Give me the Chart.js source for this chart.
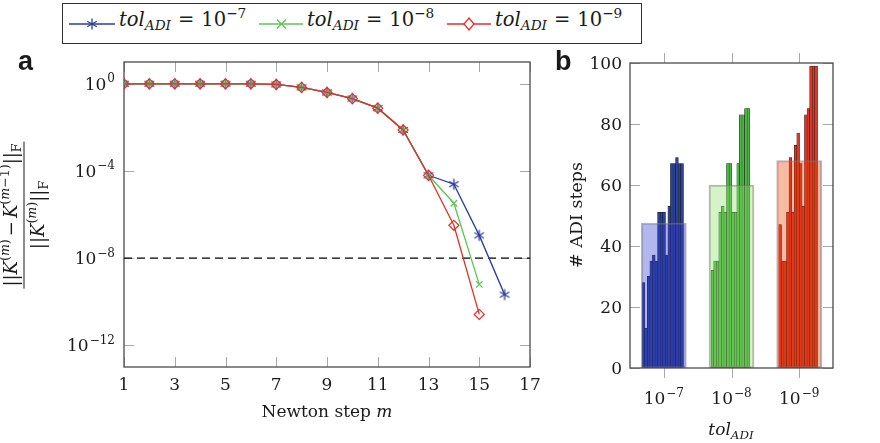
<!DOCTYPE html>
<html><head><meta charset="utf-8">
<script src="https://cdn.jsdelivr.net/npm/chart.js@4.4.1/dist/chart.umd.min.js"></script>
<style>
html,body{margin:0;padding:0;background:#fff;}
#wrap{position:relative;width:880px;height:443px;overflow:hidden;font-family:"DejaVu Serif",serif;color:#1a1a1a;}
canvas{position:absolute;top:0;}
#c1{left:0;}
#c2{left:550px;}
.abs{position:absolute;white-space:nowrap;line-height:1;}
.panel{font-family:"Liberation Sans",Arial,sans-serif;font-weight:bold;font-size:27px;}
#legend{position:absolute;left:62px;top:3px;width:580px;height:41px;box-sizing:border-box;border:1.2px solid #333;background:#fff;}
.li{position:absolute;top:0;height:38px;}
.li svg{position:absolute;top:10px;left:0;}
.lt{position:absolute;top:6px;font-size:19.5px;white-space:nowrap;line-height:1;}
.sb,.sp{font-size:70%;position:relative;line-height:0;vertical-align:baseline;}
.sp{top:-0.6em;}
.sb{top:0.32em;}
.eq{margin:0 7px;}
.frac{display:inline-block;text-align:center;vertical-align:middle;font-size:18px;}
.frac .num{display:block;border-bottom:1.2px solid #1a1a1a;padding:0 2px 4px 2px;}
.frac .den{display:block;padding-top:4px;}
.mm{margin:0 3px;}
</style>
</head>
<body>
<div id="wrap">
  <canvas id="c1" width="550" height="443"></canvas>
  <canvas id="c2" width="330" height="443"></canvas>

  <div id="legend">
    <div class="li" style="left:6px;">
      <svg width="48" height="20"><line x1="0" y1="10" x2="46" y2="10" stroke="#2b3d9c" stroke-width="1.3"/>
        <g stroke="#2b3d9c" stroke-width="1.3"><line x1="23" y1="4.5" x2="23" y2="15.5"/><line x1="18.2" y1="7.2" x2="27.8" y2="12.8"/><line x1="18.2" y1="12.8" x2="27.8" y2="7.2"/></g></svg>
    </div>
    <div class="lt" style="left:56px;"><i>tol</i><span class="sb"><i>ADI</i></span><span class="eq">=</span>10<span class="sp">−7</span></div>
    <div class="li" style="left:196px;">
      <svg width="48" height="20"><line x1="0" y1="10" x2="44" y2="10" stroke="#5cc655" stroke-width="1.3"/>
        <g stroke="#5cc655" stroke-width="1.3"><line x1="18" y1="5.5" x2="27" y2="14.5"/><line x1="18" y1="14.5" x2="27" y2="5.5"/></g></svg>
    </div>
    <div class="lt" style="left:244px;"><i>tol</i><span class="sb"><i>ADI</i></span><span class="eq">=</span>10<span class="sp">−8</span></div>
    <div class="li" style="left:384px;">
      <svg width="48" height="20"><line x1="0" y1="10" x2="44" y2="10" stroke="#e3302a" stroke-width="1.3"/>
        <polygon points="22,4 27,10 22,16 17,10" fill="#fff" stroke="#e3302a" stroke-width="1.3"/></svg>
    </div>
    <div class="lt" style="left:432px;"><i>tol</i><span class="sb"><i>ADI</i></span><span class="eq">=</span>10<span class="sp">−9</span></div>
  </div>

  <div class="abs panel" style="left:18px;top:48px;">a</div>
  <div class="abs panel" style="left:555px;top:48px;">b</div>

  <div class="abs" style="left:24px;top:215px;transform:translate(-50%,-50%) rotate(-90deg);">
    <div class="frac"><span class="num">||<i>K</i><span class="sp">(<i>m</i>)</span><span class="mm">−</span><i>K</i><span class="sp">(<i>m</i>−1)</span>||<span class="sb">F</span></span><span class="den">||<i>K</i><span class="sp">(<i>m</i>)</span>||<span class="sb">F</span></span></div>
  </div>
  <div class="abs" style="left:327px;top:403px;transform:translateX(-50%);font-size:17px;">Newton step <i>m</i></div>
  <div class="abs" style="left:577px;top:215px;transform:translate(-50%,-50%) rotate(-90deg);font-size:17.5px;"># ADI steps</div>
  <div class="abs" style="left:731px;top:421px;transform:translateX(-50%);font-size:17px;"><i>tol</i><span class="sb"><i>ADI</i></span></div>
</div>

<script>
// ---------------- data ----------------
const newtonSteps = [1,2,3,4,5,6,7,8,9,10,11,12,13,14,15,16];
const resTol7 = [1,1,1,1,1,1,0.93,0.68,0.40,0.21,0.076,7.6e-3,6.3e-5,2.45e-5,1.1e-7,2.1e-10];
const resTol8 = [1,1,1,1,1,1,0.93,0.68,0.40,0.21,0.076,7.6e-3,6.3e-5,3.3e-6,6.2e-10];
const resTol9 = [1,1,1,1,1,1,0.93,0.68,0.40,0.21,0.076,7.6e-3,6.3e-5,3.2e-7,2.6e-11];
const stopTol = 1e-8;
const leftXTicks = [1,3,5,7,9,11,13,15,17];
const leftYTicks = [1,1e-4,1e-8,1e-12];
const leftYTickExp = ['0','−4','−8','−12'];

const tolExp = ['−7','−8','−9'];
const adiTol7 = [28,13,30,35,37,35,51,51,51,37,53,67,67,69,67,67];
const adiTol8 = [32,35,35,51,53,51,67,67,51,51,67,83,83,85,85];
const adiTol9 = [47,35,35,51,69,51,73,77,67,53,83,85,99,99,99];
const adiMean = [47.5,60,68];
const rightYTicks = [0,20,40,60,80,100];

// ---------------- styles ----------------
const BLUE='#2b3d9c', GREEN='#5cc655', RED='#e3302a';
const TXT='#1a1a1a';
const BASE_FONT='17px "DejaVu Serif"', EXP_FONT='12px "DejaVu Serif"';

function drawPow(ctx, base, exp, x, y, align){
  ctx.font=BASE_FONT; const wb=ctx.measureText(base).width;
  let we=0; if(exp){ctx.font=EXP_FONT; we=ctx.measureText(exp).width+1;}
  const w=wb+we;
  const x0 = align==='right'? x-w : align==='center'? x-w/2 : x;
  ctx.textAlign='left'; ctx.textBaseline='alphabetic'; ctx.fillStyle=TXT;
  ctx.font=BASE_FONT; ctx.fillText(base,x0,y);
  if(exp){ctx.font=EXP_FONT; ctx.fillText(exp,x0+wb+1,y-7.5);}
}

function makeStar(color,r,lw){
  const s=16; const c=document.createElement('canvas'); c.width=s; c.height=s;
  const g=c.getContext('2d'); g.strokeStyle=color; g.lineWidth=lw; g.translate(s/2,s/2);
  for(let k=0;k<3;k++){const a=Math.PI/2+k*Math.PI/3; g.beginPath(); g.moveTo(r*Math.cos(a),r*Math.sin(a)); g.lineTo(-r*Math.cos(a),-r*Math.sin(a)); g.stroke();}
  return c;
}

// frame plugin: box, ticks, tick labels
function framePlugin(cfg){
  return {
    id:'frame'+cfg.name,
    beforeDatasetsDraw(chart){ if(!cfg.boxOnTop) drawBox(chart); },
    afterDatasetsDraw(chart){ if(cfg.boxOnTop) drawBox(chart); },
    afterDraw(chart){
      const ctx=chart.ctx, a=chart.chartArea, xs=chart.scales.x, ys=chart.scales.y;
      ctx.save();
      cfg.xTicks.forEach((v,i)=>{ const px=xs.getPixelForValue(v); const lab=cfg.xLabel(i,v); drawPow(ctx,lab[0],lab[1],px,cfg.xLabelY,'center'); });
      cfg.yTicks.forEach((v,i)=>{ const py=ys.getPixelForValue(v); const lab=cfg.yLabel(i,v); drawPow(ctx,lab[0],lab[1],a.left-cfg.yLabelGap,py+6,'right'); });
      ctx.restore();
    }
  };
  function drawBox(chart){
    const ctx=chart.ctx, a=chart.chartArea, xs=chart.scales.x, ys=chart.scales.y;
    ctx.save();
    ctx.strokeStyle='#a8a8a8'; ctx.lineWidth=1;
    const T=10;
    cfg.xTicks.forEach(v=>{ const px=Math.round(xs.getPixelForValue(v))+0.5;
      ctx.beginPath();
      if(cfg.xOut){ ctx.moveTo(px,a.bottom); ctx.lineTo(px,a.bottom+T); ctx.moveTo(px,a.top); ctx.lineTo(px,a.top-T); }
      else { ctx.moveTo(px,a.bottom); ctx.lineTo(px,a.bottom-T); ctx.moveTo(px,a.top); ctx.lineTo(px,a.top+T); }
      ctx.stroke(); });
    cfg.yTicks.forEach(v=>{ const py=Math.round(ys.getPixelForValue(v))+0.5;
      ctx.beginPath(); ctx.moveTo(a.left,py); ctx.lineTo(a.left+T,py); ctx.moveTo(a.right,py); ctx.lineTo(a.right-T,py); ctx.stroke(); });
    ctx.strokeStyle='#4a4a4a'; ctx.lineWidth=1.3;
    ctx.strokeRect(a.left,a.top,a.right-a.left,a.bottom-a.top);
    ctx.restore();
  }
}

const common = { responsive:false, animation:false, devicePixelRatio:1,
  plugins:{legend:{display:false}, tooltip:{enabled:false}} };

// ---------------- left chart ----------------
const pts = arr => arr.map((v,i)=>({x:newtonSteps[i], y:v}));
new Chart(document.getElementById('c1'), {
  type:'line',
  data:{datasets:[
    {label:'tol 1e-7', data:pts(resTol7), borderColor:BLUE, borderWidth:1.3, pointStyle:makeStar(BLUE,5.5,1.3), pointRadius:6, tension:0, order:2},
    {label:'tol 1e-8', data:pts(resTol8), borderColor:GREEN, borderWidth:1.3, pointStyle:'crossRot', pointRadius:4.6, pointBorderWidth:1.3, pointBorderColor:GREEN, tension:0, order:1},
    {label:'tol 1e-9', data:pts(resTol9), borderColor:RED, borderWidth:1.3, pointStyle:'rectRot', pointRadius:5, pointBorderWidth:1.2, pointBorderColor:RED, pointBackgroundColor:'rgba(255,255,255,0)', tension:0, order:0},
    {label:'stop', data:[{x:leftXTicks[0],y:stopTol},{x:leftXTicks[leftXTicks.length-1],y:stopTol}], borderColor:'#000', borderWidth:1.2, borderDash:[8,5], pointRadius:0, order:3}
  ]},
  options:Object.assign({}, common, {
    layout:{padding:{top:62,right:20,left:0,bottom:0}},
    scales:{
      x:{type:'linear', min:1, max:17, ticks:{display:false}, grid:{display:false}, border:{display:false},
         afterBuildTicks:s=>{s.ticks=leftXTicks.map(v=>({value:v}));}, afterFit:s=>{s.height=76;}},
      y:{type:'logarithmic', min:1e-13, max:10, ticks:{display:false}, grid:{display:false}, border:{display:false},
         afterBuildTicks:s=>{s.ticks=leftYTicks.map(v=>({value:v}));}, afterFit:s=>{s.width=124;}}
    }
  }),
  plugins:[framePlugin({name:'L', boxOnTop:false, xOut:false, xTicks:leftXTicks, yTicks:leftYTicks,
    xLabel:(i,v)=>[String(v),''], yLabel:(i)=>['10',leftYTickExp[i]], xLabelY:390, yLabelGap:9})]
});

// ---------------- right chart ----------------
const PITCH=0.038;
const barPts = (arr,g) => arr.map((v,i)=>({x:g+0.5-0.015+(i-(arr.length-1)/2)*PITCH, y:v}));
const darkBar = {grouped:false, barThickness:2.57, maxBarThickness:2.57, borderColor:'#141414', borderWidth:0.5, inflateAmount:0.4, order:1};
new Chart(document.getElementById('c2'), {
  type:'bar',
  data:{datasets:[
    {label:'mean', data:adiMean.map((v,g)=>({x:g+0.5,y:v})), grouped:false, barThickness:45, maxBarThickness:45,
     backgroundColor:['rgba(45,55,205,0.36)','rgba(140,218,105,0.36)','rgba(240,60,0,0.36)'],
     borderColor:'rgba(120,120,120,0.55)', borderWidth:1.4, borderSkipped:false, order:0},
    Object.assign({label:'tol 1e-7', data:barPts(adiTol7,0), backgroundColor:'#2f4396'}, darkBar),
    Object.assign({label:'tol 1e-8', data:barPts(adiTol8,1), backgroundColor:'#4cb846'}, darkBar),
    Object.assign({label:'tol 1e-9', data:barPts(adiTol9,2), backgroundColor:'#d8392a'}, darkBar)
  ]},
  options:Object.assign({}, common, {
    layout:{padding:{top:63,right:47,left:0,bottom:0}},
    scales:{
      x:{type:'linear', offset:false, min:0, max:3, ticks:{display:false}, grid:{display:false, offset:false}, border:{display:false},
         afterBuildTicks:s=>{s.ticks=[0.5,1.5,2.5].map(v=>({value:v}));}, afterFit:s=>{s.height=75;}},
      y:{type:'linear', min:0, max:100, ticks:{display:false}, grid:{display:false}, border:{display:false},
         afterBuildTicks:s=>{s.ticks=rightYTicks.map(v=>({value:v}));}, afterFit:s=>{s.width=80;}}
    }
  }),
  plugins:[framePlugin({name:'R', boxOnTop:true, xOut:true, xTicks:[0.5,1.5,2.5], yTicks:rightYTicks,
    xLabel:(i)=>['10',tolExp[i]], yLabel:(i,v)=>[String(v),''], xLabelY:404, yLabelGap:8})]
});
</script>
</body></html>
